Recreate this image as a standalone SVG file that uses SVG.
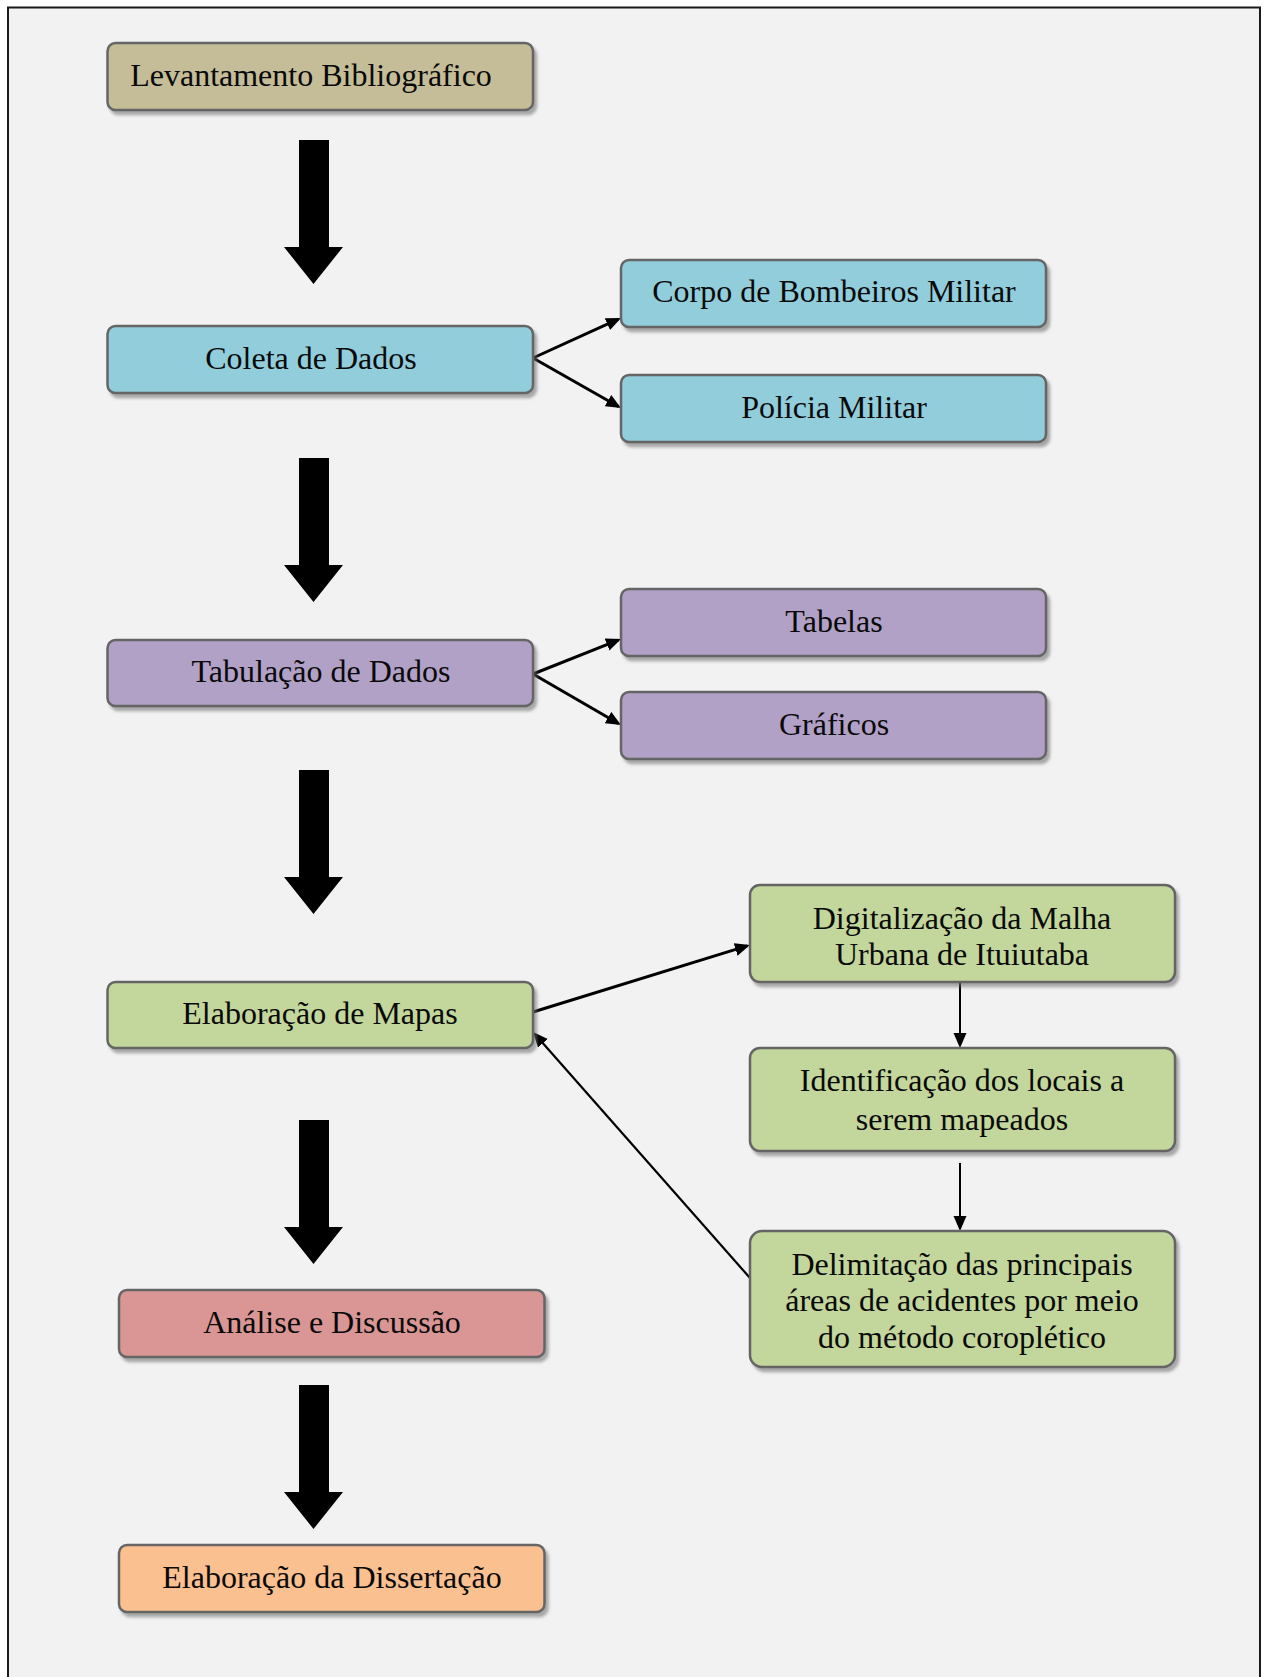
<svg xmlns="http://www.w3.org/2000/svg" width="1264" height="1677" viewBox="0 0 1264 1677">
  <defs>
    <filter id="sh" x="-5%" y="-10%" width="115%" height="130%">
      <feDropShadow dx="3" dy="4" stdDeviation="1.5" flood-color="#6a6a6a" flood-opacity="0.55"/>
    </filter>
    <marker id="ah" markerUnits="userSpaceOnUse" markerWidth="16" markerHeight="14" refX="12" refY="6.5" orient="auto">
      <path d="M0,0 L15,6.5 L0,13 z" fill="#000"/>
    </marker>
  </defs>
  <style>
    .box { stroke: #656565; stroke-width: 2.5; filter: url(#sh); }
    .t { font-family: "Liberation Serif", "Times New Roman", serif; font-size: 32px; fill: #0a0a0a; text-anchor: middle; }
    .c { stroke: #000; fill: none; marker-end: url(#ah); }
    .big { fill: #000; }
    .tan { fill: #c4bd97; }
    .blue { fill: #92cddc; }
    .purple { fill: #b2a1c7; }
    .green { fill: #c3d69b; }
    .red { fill: #d99694; }
    .orange { fill: #fac090; }
  </style>
  <rect x="0" y="0" width="1264" height="1677" fill="#ffffff"/>
  <rect x="8" y="7.5" width="1252" height="1700" fill="#f2f2f2" stroke="#1a1a1a" stroke-width="2"/>

  <g id="connectors">
    <polygon class="big" points="299,140 329,140 329,247 343,247 313.5,284 284,247 299,247"/>
    <polygon class="big" points="299,458 329,458 329,565 343,565 313.5,602 284,565 299,565"/>
    <polygon class="big" points="299,770 329,770 329,877 343,877 313.5,914 284,877 299,877"/>
    <polygon class="big" points="299,1120 329,1120 329,1227 343,1227 313.5,1264 284,1227 299,1227"/>
    <polygon class="big" points="299,1385 329,1385 329,1492 343,1492 313.5,1529 284,1492 299,1492"/>
    <line class="c" stroke-width="3" x1="533" y1="358" x2="618.3" y2="319.2"/>
    <line class="c" stroke-width="3" x1="533" y1="358" x2="618.4" y2="406.5"/>
    <line class="c" stroke-width="3" x1="533" y1="674" x2="618.2" y2="640.1"/>
    <line class="c" stroke-width="3" x1="533" y1="674" x2="618.4" y2="723.5"/>
    <line class="c" stroke-width="3" x1="533" y1="1012" x2="747.1" y2="945.9"/>
    <line class="c" stroke-width="2" x1="960" y1="982" x2="960" y2="1045"/>
    <line class="c" stroke-width="2" x1="960" y1="1163" x2="960" y2="1228"/>
    <line class="c" stroke-width="2.2" x1="750" y1="1278" x2="535" y2="1034.2"/>
  </g>

  <g id="n-levantamento">
    <rect class="box tan" x="107.5" y="43" width="425.5" height="67" rx="8"/>
    <text class="t" x="311" y="86">Levantamento Bibliográfico</text>
  </g>
  <g id="n-coleta">
    <rect class="box blue" x="107.5" y="326" width="425.5" height="67" rx="8"/>
    <text class="t" x="311" y="369">Coleta de Dados</text>
  </g>
  <g id="n-corpo">
    <rect class="box blue" x="621" y="260" width="425" height="67" rx="8"/>
    <text class="t" x="834" y="302">Corpo de Bombeiros Militar</text>
  </g>
  <g id="n-policia">
    <rect class="box blue" x="621" y="375" width="425" height="67" rx="8"/>
    <text class="t" x="834" y="418">Polícia Militar</text>
  </g>
  <g id="n-tabulacao">
    <rect class="box purple" x="107.5" y="640" width="425.5" height="66" rx="8"/>
    <text class="t" x="321" y="682">Tabulação de Dados</text>
  </g>
  <g id="n-tabelas">
    <rect class="box purple" x="621" y="589" width="425" height="67" rx="8"/>
    <text class="t" x="834" y="632">Tabelas</text>
  </g>
  <g id="n-graficos">
    <rect class="box purple" x="621" y="692" width="425" height="67" rx="8"/>
    <text class="t" x="834" y="735">Gráficos</text>
  </g>
  <g id="n-mapas">
    <rect class="box green" x="107.5" y="982" width="425.5" height="66" rx="8"/>
    <text class="t" x="320" y="1024">Elaboração de Mapas</text>
  </g>
  <g id="n-digitalizacao">
    <rect class="box green" x="750" y="885" width="425" height="97" rx="10"/>
    <text class="t" x="962" y="929">Digitalização da Malha</text>
    <text class="t" x="962" y="965">Urbana de Ituiutaba</text>
  </g>
  <g id="n-identificacao">
    <rect class="box green" x="750" y="1048" width="425" height="103" rx="10"/>
    <text class="t" x="962" y="1091">Identificação dos locais a</text>
    <text class="t" x="962" y="1130">serem mapeados</text>
  </g>
  <g id="n-delimitacao">
    <rect class="box green" x="750" y="1231" width="425" height="136" rx="12"/>
    <text class="t" x="962" y="1275">Delimitação das principais</text>
    <text class="t" x="962" y="1311">áreas de acidentes por meio</text>
    <text class="t" x="962" y="1348">do método coroplético</text>
  </g>
  <g id="n-analise">
    <rect class="box red" x="119" y="1290" width="425.5" height="67" rx="8"/>
    <text class="t" x="332" y="1333">Análise e Discussão</text>
  </g>
  <g id="n-dissertacao">
    <rect class="box orange" x="119" y="1545" width="425.5" height="67" rx="8"/>
    <text class="t" x="332" y="1588">Elaboração da Dissertação</text>
  </g>
</svg>
